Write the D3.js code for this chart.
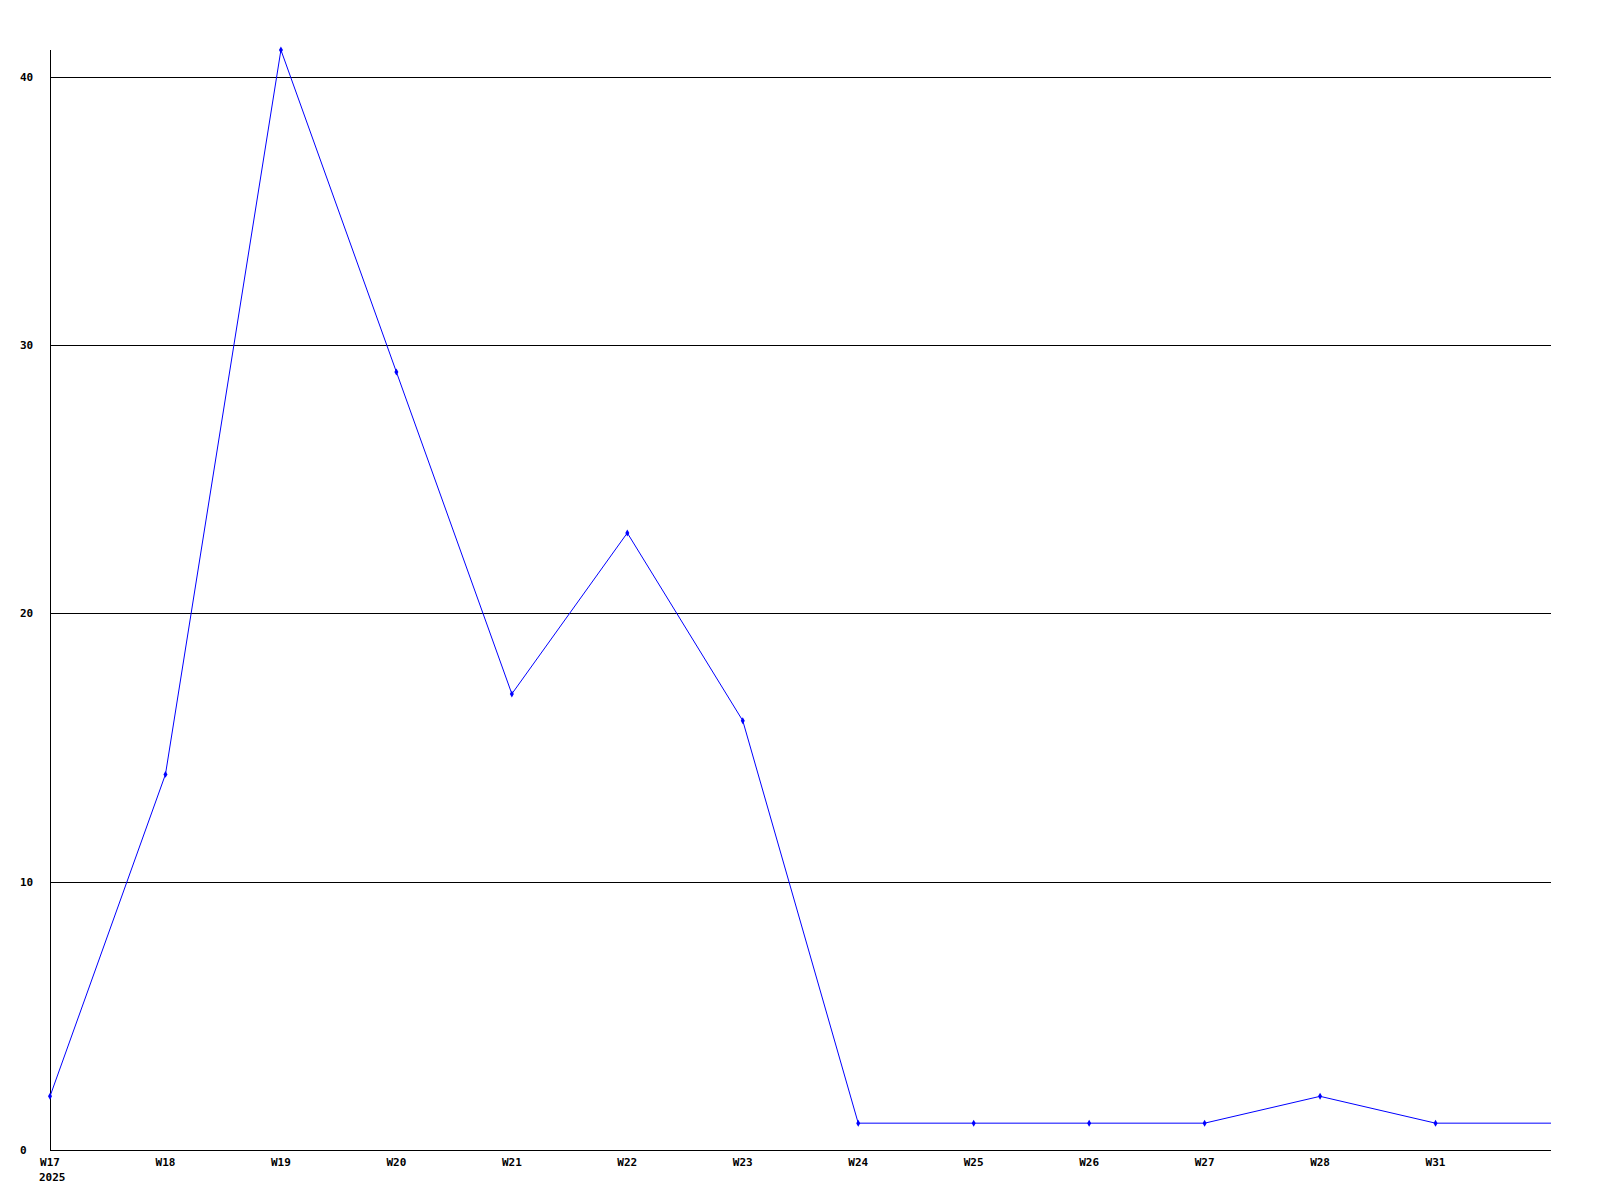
<!DOCTYPE html>
<html>
<head>
<meta charset="utf-8">
<script src="https://cdn.jsdelivr.net/npm/d3@7"></script>
<style>
  html, body { margin: 0; padding: 0; background: #fff; }
  svg { display: block; }
  text { font-family: "DejaVu Sans Mono", "Liberation Mono", monospace; font-weight: bold; font-size: 11px; fill: #000; }
</style>
</head>
<body>
<svg id="chart" width="1600" height="1200"></svg>
<script>
// Data
const categories = ["W17", "W18", "W19", "W20", "W21", "W22", "W23", "W24", "W25", "W26", "W27", "W28", "W31", ""];
const values     = [2, 14, 41, 29, 17, 23, 16, 1, 1, 1, 1, 2, 1, 1];
const yTicks     = [0, 10, 20, 30, 40];
const yearLabel  = "2025";

(function () {
const svg = d3.select("#chart");
const mLeft = 50, mRight = 1551, mTop = 50, mBottom = 1150;

const x = d3.scalePoint().domain(d3.range(categories.length)).range([mLeft, mRight]);
const y = d3.scaleLinear().domain([0, 41]).range([mBottom, mTop]);

// gridlines
svg.append("g").selectAll("line").data(yTicks.filter(d => d > 0)).join("line")
  .attr("x1", mLeft).attr("x2", mRight)
  .attr("y1", d => Math.round(y(d)) + 0.5).attr("y2", d => Math.round(y(d)) + 0.5)
  .attr("stroke", "#000").attr("stroke-width", 1).attr("shape-rendering", "crispEdges");

// axes lines
svg.append("line").attr("x1", mLeft + 0.5).attr("x2", mLeft + 0.5).attr("y1", mTop).attr("y2", mBottom + 1)
  .attr("stroke", "#000").attr("shape-rendering", "crispEdges");
svg.append("line").attr("x1", mLeft).attr("x2", mRight).attr("y1", mBottom + 0.5).attr("y2", mBottom + 0.5)
  .attr("stroke", "#000").attr("shape-rendering", "crispEdges");

// y labels
svg.append("g").selectAll("text").data(yTicks).join("text")
  .attr("x", 20).attr("y", d => y(d)).attr("dy", "0.35em")
  .text(d => d);

// x labels
svg.append("g").selectAll("text").data(categories.map((c, i) => ({c, i})).filter(d => d.c)).join("text")
  .attr("x", d => x(d.i)).attr("y", 1166)
  .attr("text-anchor", "middle")
  .text(d => d.c);
svg.append("text").attr("x", 39).attr("y", 1181).text(yearLabel);

// line
const line = d3.line().x((d, i) => x(i)).y(d => y(d));
svg.append("path").datum(values)
  .attr("d", line).attr("fill", "none").attr("stroke", "#0000ff").attr("stroke-width", 1);

// markers (not on trailing unlabeled point)
svg.append("g").selectAll("path").data(values.slice(0, categories.length - 1)).join("path")
  .attr("transform", (d, i) => `translate(${x(i)},${y(d)})`)
  .attr("d", d3.symbol(d3.symbolDiamond, 14))
  .attr("fill", "#0000ff");
})();
</script>
</body>
</html>
